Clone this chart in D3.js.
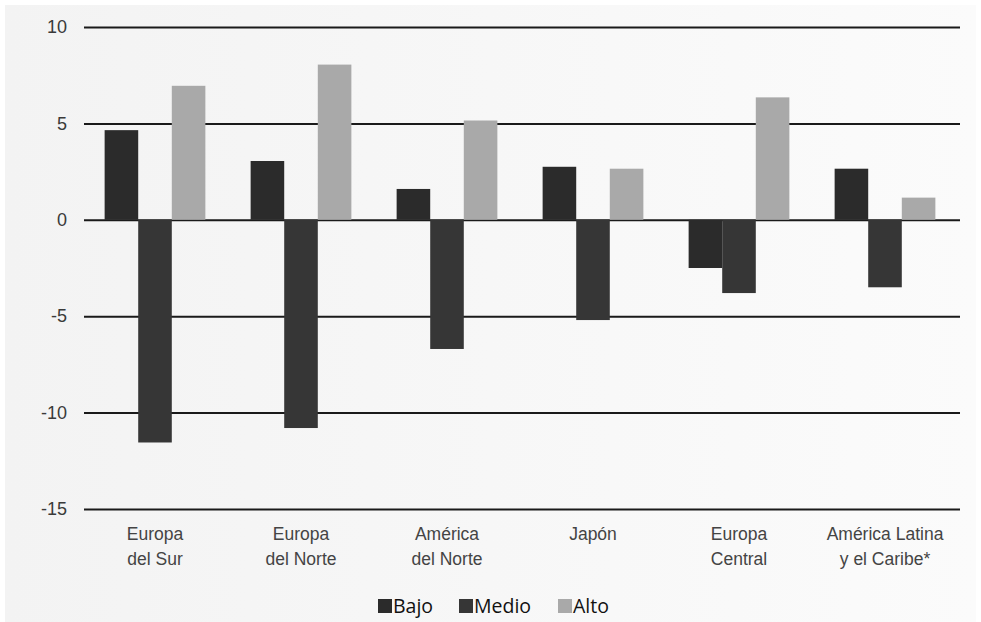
<!DOCTYPE html>
<html>
<head>
<meta charset="utf-8">
<script src="https://cdn.jsdelivr.net/npm/d3@7"></script>
<style>
  body { margin: 0; background: #ffffff; }
  svg { display: block; font-family: "Open Sans", Lato, sans-serif; }
</style>
</head>
<body>
<svg id="chart"></svg>
<script>
// Data
const regions = [
    "Europa|del Sur",
    "Europa|del Norte",
    "América|del Norte",
    "Japón",
    "Europa|Central",
    "América Latina|y el Caribe*"
];
const seriesNames = ["Bajo", "Medio", "Alto"];
const bajo  = [4.65, 3.05, 1.6, 2.75, -2.5, 2.65];
const medio = [-11.55, -10.8, -6.7, -5.2, -3.8, -3.5];
const alto  = [6.95, 8.05, 5.15, 2.65, 6.35, 1.15];
const yTicks = [10, 5, 0, -5, -10, -15];
const colors = ["#2b2b2b", "#363636", "#a9a9a9"];

const svgWidth = 981, svgHeight = 622;
const plot = { left: 84, right: 960, top: 27, bottom: 509 };

const svg = d3.select("#chart")
    .attr("width", svgWidth)
    .attr("height", svgHeight);

// light grey background with a soft left-to-right fade
const grad = svg.append("defs").append("linearGradient")
    .attr("id", "bg").attr("x1", 0).attr("x2", 1).attr("y1", 0).attr("y2", 0);
grad.append("stop").attr("offset", "0%").attr("stop-color", "#f3f3f3");
grad.append("stop").attr("offset", "100%").attr("stop-color", "#fbfbfb");
svg.append("rect")
    .attr("x", 5).attr("y", 5)
    .attr("width", svgWidth - 10).attr("height", svgHeight - 5)
    .attr("fill", "url(#bg)");

const table = regions.map((r, i) => ({
    region: r,
    values: [bajo[i], medio[i], alto[i]]
}));

// Scales
const x0 = d3.scaleBand()
    .domain(regions)
    .range([plot.left - 2, plot.right - 2])
    .paddingInner(0.31)
    .paddingOuter(0.155);

const x1 = d3.scaleBand()
    .domain(seriesNames)
    .range([0, x0.bandwidth()]);

const y = d3.scaleLinear()
    .domain([-15, 10])
    .range([plot.bottom, plot.top]);

// Y axis + gridlines
const yAxis = svg.append("g")
    .attr("transform", `translate(${plot.left}, 0)`)
    .call(d3.axisLeft(y)
        .tickValues(yTicks)
        .tickSize(-(plot.right - plot.left))
        .tickPadding(17)
        .tickFormat(d => String(d)));
yAxis.select(".domain").remove();
yAxis.selectAll(".tick line")
    .attr("stroke", "#1a1a1a")
    .attr("stroke-width", 2);
yAxis.selectAll(".tick text")
    .attr("fill", "#3a3a3a")
    .style("font-size", "18px");

// Bars
const groups = svg.append("g")
    .selectAll("g")
    .data(table)
    .join("g")
    .attr("transform", d => `translate(${x0(d.region)}, 0)`);

groups.selectAll("rect")
    .data(d => d.values.map((v, i) => ({ key: seriesNames[i], value: v, idx: i })))
    .join("rect")
    .attr("x", d => x1(d.key))
    .attr("width", x1.bandwidth())
    .attr("y", d => y(Math.max(0, d.value)))
    .attr("height", d => Math.abs(y(d.value) - y(0)))
    .attr("fill", d => colors[d.idx]);

// Category labels (two lines)
const xAxis = svg.append("g")
    .attr("transform", `translate(0, ${plot.bottom})`)
    .call(d3.axisBottom(x0).tickSize(0).tickPadding(0));
xAxis.select(".domain").remove();
xAxis.selectAll(".tick text").each(function(d) {
    const t = d3.select(this).text(null)
        .attr("fill", "#444")
        .attr("dy", null)
        .attr("y", 31)
        .style("font-size", "17.5px");
    d.split("|").forEach((line, i) => {
        t.append("tspan")
            .attr("x", 0)
            .attr("dy", i === 0 ? 0 : "1.4em")
            .text(line);
    });
});

// Legend
const legendItems = [
    { name: "Bajo", x: 378 },
    { name: "Medio", x: 459 },
    { name: "Alto", x: 558 }
];
const legend = svg.append("g");
legendItems.forEach((item, i) => {
    legend.append("rect")
        .attr("x", item.x).attr("y", 599)
        .attr("width", 14).attr("height", 14)
        .attr("fill", colors[i]);
    legend.append("text")
        .attr("x", item.x + 15).attr("y", 613)
        .attr("fill", "#111")
        .style("font-size", "19.5px")
        .text(item.name);
});
</script>
</body>
</html>
